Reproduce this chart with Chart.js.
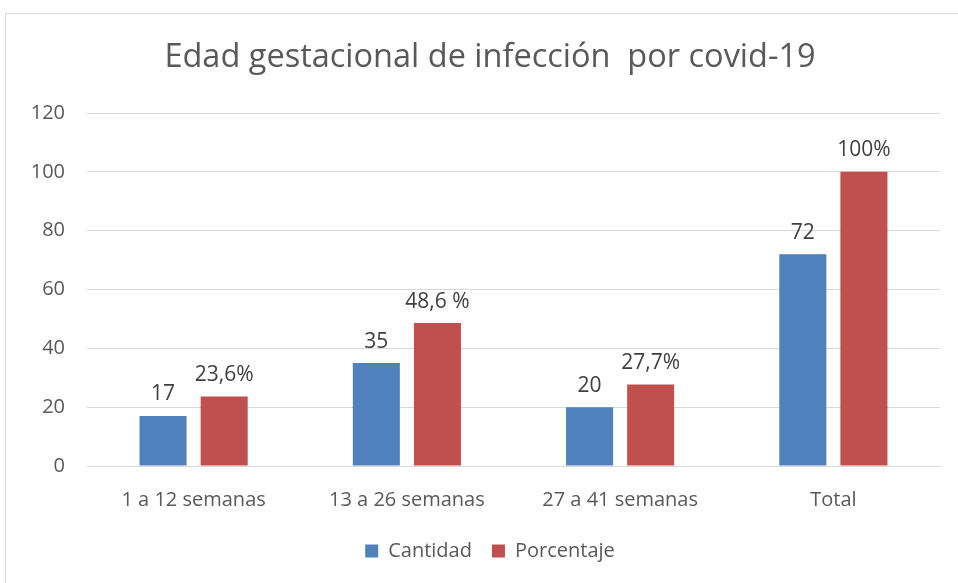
<!DOCTYPE html>
<html>
<head>
<meta charset="utf-8">
<script src="https://cdn.jsdelivr.net/npm/chart.js@4"></script>
<style>
  html, body { margin: 0; padding: 0; background: #fff; }
  #wrap { position: relative; width: 958px; height: 583px; }
</style>
</head>
<body>
<div id="wrap"><canvas id="chart" width="958" height="583"></canvas></div>
<script>
var categories = ["1 a 12 semanas", "13 a 26 semanas", "27 a 41 semanas", "Total"];
var cantidad = [17, 35, 20, 72];
var porcentaje = [23.6, 48.6, 27.7, 100];
var cantidadLabels = ["17", "35", "20", "72"];
var porcentajeLabels = ["23,6%", "48,6 %", "27,7%", "100%"];
var yTicks = [0, 20, 40, 60, 80, 100, 120];

var textColor = "#595959";
var fontFamily = "'Open Sans', sans-serif";

var frame = {
    id: 'frame',
    beforeDraw: function (chart) {
        var c = chart.ctx;
        c.save();
        c.strokeStyle = "#d9d9d9";
        c.lineWidth = 1;
        c.strokeRect(5.5, 13.5, 1000, 1000);
        c.restore();
    }
};

// let the y tick labels use the left padding too (otherwise they get clipped)
var widenYLabels = {
    id: 'widenYLabels',
    afterLayout: function (chart) {
        chart.scales.y.left = 0;
    }
};

var barLabels = {
    id: 'barLabels',
    afterDatasetsDraw: function (chart) {
        var c = chart.ctx;
        c.save();
        c.fillStyle = "#404040";
        c.font = "21px " + fontFamily;
        c.textAlign = "center";
        c.textBaseline = "bottom";
        chart.data.datasets.forEach(function (ds, i) {
            var meta = chart.getDatasetMeta(i);
            meta.data.forEach(function (bar, j) {
                c.fillText(ds.labels[j], bar.x, bar.y - 11);
            });
        });
        c.restore();
    }
};

var ctx = document.getElementById("chart").getContext("2d");
var chart = new Chart(ctx, {
    type: "bar",
    data: {
        labels: categories,
        datasets: [
            {
                label: "Cantidad",
                data: cantidad,
                labels: cantidadLabels,
                backgroundColor: "#4f81bd",
                categoryPercentage: 0.573,
                barPercentage: 0.77
            },
            {
                label: "Porcentaje",
                data: porcentaje,
                labels: porcentajeLabels,
                backgroundColor: "#c0504d",
                categoryPercentage: 0.573,
                barPercentage: 0.77
            }
        ]
    },
    options: {
        responsive: false,
        animation: false,
        layout: { padding: { left: 40, right: 18, top: 20, bottom: 12 } },
        plugins: {
            title: {
                display: true,
                text: "Edad gestacional de infección  por covid-19",
                color: textColor,
                font: { family: fontFamily, size: 32.5, weight: "normal" },
                padding: { top: 18, bottom: 36 }
            },
            legend: {
                position: "bottom",
                labels: {
                    color: textColor,
                    font: { family: fontFamily, size: 20 },
                    boxWidth: 13,
                    boxHeight: 13,
                    padding: 20
                }
            },
            tooltip: { enabled: false }
        },
        scales: {
            x: {
                grid: { display: false },
                border: { color: "#d9d9d9" },
                ticks: { color: textColor, font: { family: fontFamily, size: 20 }, padding: 14 },
                afterFit: function (scale) { scale.height = 55; }
            },
            y: {
                min: 0,
                max: 120,
                afterBuildTicks: function (scale) {
                    scale.ticks = yTicks.map(function (v) { return { value: v }; });
                },
                grid: { color: "#d9d9d9", drawTicks: false },
                border: { display: false },
                ticks: { color: textColor, font: { family: fontFamily, size: 20 }, padding: 22 },
                afterFit: function (scale) { scale.width = 47; }
            }
        }
    },
    plugins: [frame, widenYLabels, barLabels]
});
</script>
</body>
</html>
